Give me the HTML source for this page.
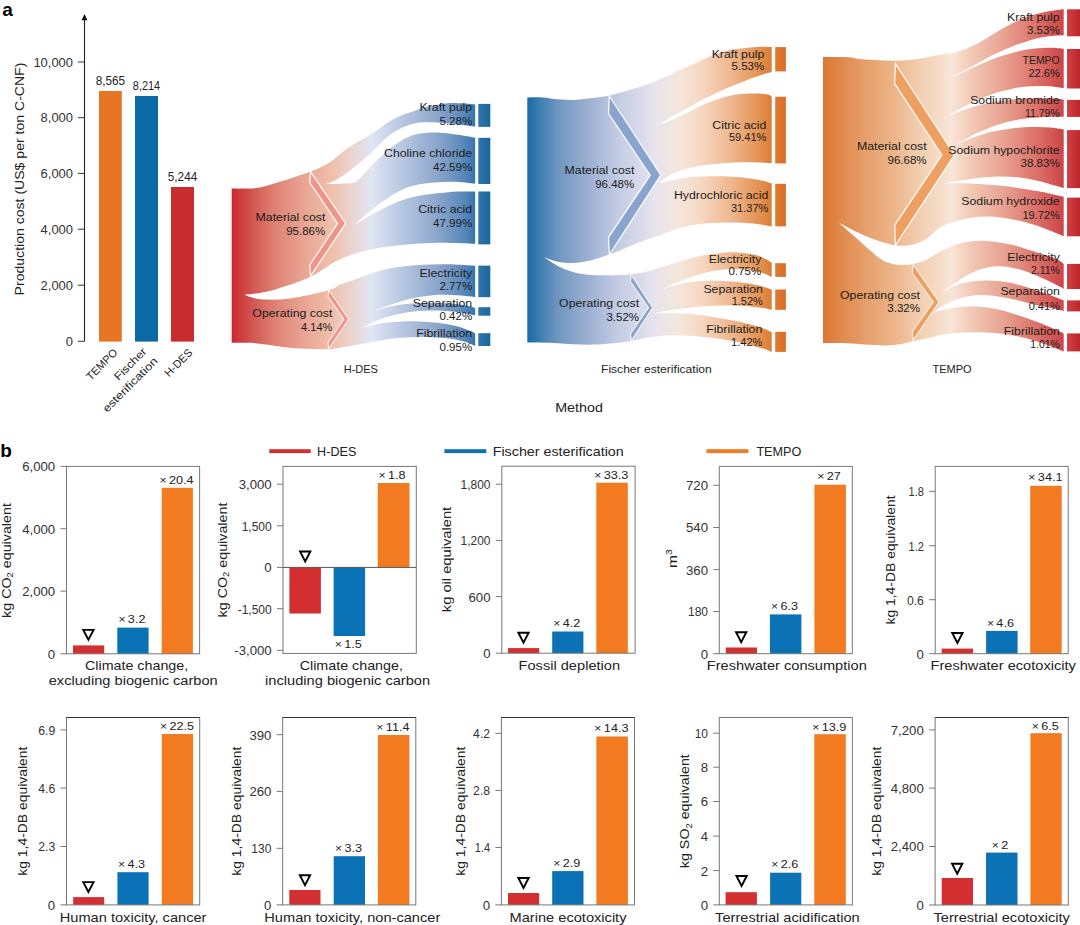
<!DOCTYPE html>
<html><head><meta charset="utf-8"><title>Figure</title>
<style>
html,body{margin:0;padding:0;background:#fff;}
body{width:1080px;height:925px;overflow:hidden;font-family:"Liberation Sans",sans-serif;}
svg{display:block;font-family:"Liberation Sans",sans-serif;}
</style></head><body>
<svg width="1080" height="925" viewBox="0 0 1080 925">
<defs><linearGradient id="gH" gradientUnits="userSpaceOnUse" x1="231.7" y1="0" x2="475.2" y2="0"><stop offset="0.0000" stop-color="#c8292f"/><stop offset="0.0957" stop-color="#d45b55"/><stop offset="0.1778" stop-color="#de8275"/><stop offset="0.2805" stop-color="#e8a08f"/><stop offset="0.4119" stop-color="#f0c0ab"/><stop offset="0.5064" stop-color="#e9d7d6"/><stop offset="0.5762" stop-color="#dfe6f4"/><stop offset="0.6912" stop-color="#bac9e2"/><stop offset="0.8431" stop-color="#8ba6cc"/><stop offset="0.9458" stop-color="#5c8abb"/><stop offset="0.9967" stop-color="#3a76ae"/></linearGradient><linearGradient id="gHn" gradientUnits="userSpaceOnUse" x1="478.2" y1="0" x2="490.5" y2="0"><stop offset="0.0000" stop-color="#2f75ac"/><stop offset="1.0000" stop-color="#19669f"/></linearGradient><linearGradient id="gF" gradientUnits="userSpaceOnUse" x1="527.3" y1="0" x2="771.7" y2="0"><stop offset="0.0000" stop-color="#1c6aa5"/><stop offset="0.0520" stop-color="#3c7eb1"/><stop offset="0.1248" stop-color="#6f96c0"/><stop offset="0.2484" stop-color="#9cb0d2"/><stop offset="0.3711" stop-color="#c3cce2"/><stop offset="0.4611" stop-color="#d8daea"/><stop offset="0.5225" stop-color="#e8e4ec"/><stop offset="0.6166" stop-color="#f4e6dc"/><stop offset="0.7066" stop-color="#f6d9c4"/><stop offset="0.8335" stop-color="#efb78e"/><stop offset="0.9562" stop-color="#e38f4e"/><stop offset="1.0000" stop-color="#dd7b34"/></linearGradient><linearGradient id="gFn" gradientUnits="userSpaceOnUse" x1="775.2" y1="0" x2="785.9" y2="0"><stop offset="0.0000" stop-color="#e17a30"/><stop offset="1.0000" stop-color="#da6d25"/></linearGradient><linearGradient id="gT" gradientUnits="userSpaceOnUse" x1="823" y1="0" x2="1063.3" y2="0"><stop offset="0.0000" stop-color="#dd7530"/><stop offset="0.0749" stop-color="#e08a4c"/><stop offset="0.1831" stop-color="#e6a06c"/><stop offset="0.2913" stop-color="#ecb488"/><stop offset="0.3995" stop-color="#f2ceaf"/><stop offset="0.4869" stop-color="#f6dcc8"/><stop offset="0.5327" stop-color="#f8e6d8"/><stop offset="0.6201" stop-color="#f2c8b4"/><stop offset="0.7574" stop-color="#e8a090"/><stop offset="0.8906" stop-color="#dc7068"/><stop offset="1.0000" stop-color="#cc4548"/></linearGradient><linearGradient id="gTn" gradientUnits="userSpaceOnUse" x1="1067" y1="0" x2="1080" y2="0"><stop offset="0.0000" stop-color="#cc4246"/><stop offset="1.0000" stop-color="#bd262b"/></linearGradient></defs>
<text transform="translate(2.20,15.90)" font-size="19" text-anchor="start" fill="#000" font-weight="bold">a</text>
<text transform="translate(0.30,457.20)" font-size="19" text-anchor="start" fill="#000" font-weight="bold">b</text>
<path d="M84.5,341.3 V18" stroke="#222" stroke-width="1.1" fill="none"/>
<path d="M84.5,14 L81.6,20.3 L87.4,20.3 Z" fill="#111"/>
<path d="M78,62 H84.5" stroke="#333" stroke-width="1"/>
<text transform="translate(73.00,66.60) scale(1.08,1)" font-size="12" text-anchor="end" fill="#333">10,000</text>
<path d="M78,117.7 H84.5" stroke="#333" stroke-width="1"/>
<text transform="translate(73.00,122.30) scale(1.08,1)" font-size="12" text-anchor="end" fill="#333">8,000</text>
<path d="M78,173.4 H84.5" stroke="#333" stroke-width="1"/>
<text transform="translate(73.00,178.00) scale(1.08,1)" font-size="12" text-anchor="end" fill="#333">6,000</text>
<path d="M78,229.2 H84.5" stroke="#333" stroke-width="1"/>
<text transform="translate(73.00,233.80) scale(1.08,1)" font-size="12" text-anchor="end" fill="#333">4,000</text>
<path d="M78,285.2 H84.5" stroke="#333" stroke-width="1"/>
<text transform="translate(73.00,289.80) scale(1.08,1)" font-size="12" text-anchor="end" fill="#333">2,000</text>
<path d="M78,341.3 H84.5" stroke="#333" stroke-width="1"/>
<text transform="translate(73.00,345.90) scale(1.08,1)" font-size="12" text-anchor="end" fill="#333">0</text>
<rect x="99" y="91" width="22.80" height="250.60" fill="#e77524"/>
<text transform="translate(110.40,84.80) scale(0.98,1)" font-size="12" text-anchor="middle" fill="#222">8,565</text>
<rect x="135" y="96" width="23.00" height="245.60" fill="#0b6aa5"/>
<text transform="translate(146.50,89.80) scale(0.91,1)" font-size="12" text-anchor="middle" fill="#222">8,214</text>
<rect x="171" y="187" width="23.00" height="154.60" fill="#c92c2e"/>
<text transform="translate(182.50,180.80) scale(0.98,1)" font-size="12" text-anchor="middle" fill="#222">5,244</text>
<text transform="translate(24.20,179.00) rotate(-90) scale(1.125,1)" font-size="12.5" text-anchor="middle" fill="#222">Production cost (US$ per ton C-CNF)</text>
<text transform="translate(118.30,353.30) rotate(-45)" font-size="11" text-anchor="end" fill="#222">TEMPO</text>
<text transform="translate(147.30,352.30) rotate(-45) scale(1.13,1)" font-size="11" text-anchor="end" fill="#222">Fischer</text>
<text transform="translate(158.30,361.80) rotate(-45) scale(1.17,1)" font-size="11" text-anchor="end" fill="#222">esterification</text>
<text transform="translate(193.20,353.30) rotate(-45)" font-size="11" text-anchor="end" fill="#222">H-DES</text>
<text transform="translate(579.00,412.00) scale(1.1,1)" font-size="13" text-anchor="middle" fill="#222">Method</text>
<path d="M231.70,188.60 C233.58,188.60 239.15,188.67 243.00,188.60 C246.85,188.53 250.80,188.68 254.80,188.20 C258.80,187.72 262.80,186.77 267.00,185.70 C271.20,184.63 275.33,183.27 280.00,181.80 C284.67,180.33 289.88,178.60 295.00,176.90 C300.12,175.20 306.20,173.33 310.70,171.60 C315.20,169.87 318.22,168.48 322.00,166.50 C325.78,164.52 329.62,162.35 333.40,159.70 C337.18,157.05 340.92,153.43 344.70,150.60 C348.48,147.77 352.32,145.07 356.10,142.70 C359.88,140.33 363.62,138.68 367.40,136.40 C371.18,134.12 375.02,131.55 378.80,129.00 C382.58,126.45 386.32,123.37 390.10,121.10 C393.88,118.83 397.72,117.00 401.50,115.40 C405.28,113.80 408.88,112.85 412.80,111.50 C416.72,110.15 419.13,108.68 425.00,107.30 C430.87,105.92 439.63,103.68 448.00,103.20 C456.37,102.72 470.67,104.20 475.20,104.40 L475.20,345.90 C473.20,345.12 468.45,342.52 463.20,341.20 C457.95,339.88 451.27,338.72 443.70,338.00 C436.13,337.28 426.43,336.80 417.80,336.90 C409.17,337.00 400.55,337.55 391.90,338.60 C383.25,339.65 374.55,341.68 365.90,343.20 C357.25,344.72 346.20,346.70 340.00,347.70 C333.80,348.70 333.70,348.98 328.70,349.20 C323.70,349.42 316.48,349.23 310.00,349.00 C303.52,348.77 296.47,348.47 289.80,347.80 C283.13,347.13 276.05,345.78 270.00,345.00 C263.95,344.22 258.00,343.47 253.50,343.10 C249.00,342.73 246.63,342.85 243.00,342.80 C239.37,342.75 233.58,342.80 231.70,342.80 Z" fill="url(#gH)"/>
<path d="M324.90,184.10 C326.32,183.63 330.10,182.90 333.40,181.30 C336.70,179.70 340.92,177.15 344.70,174.50 C348.48,171.85 352.32,168.43 356.10,165.40 C359.88,162.37 363.62,159.72 367.40,156.30 C371.18,152.88 375.02,148.50 378.80,144.90 C382.58,141.30 386.32,137.53 390.10,134.70 C393.88,131.87 397.72,129.70 401.50,127.90 C405.28,126.10 408.88,124.85 412.80,123.90 C416.72,122.95 419.13,122.30 425.00,122.20 C430.87,122.10 439.63,122.55 448.00,123.30 C456.37,124.05 470.67,126.13 475.20,126.70 L477.20,126.70 L477.20,137.80 L475.20,137.80 C472.33,137.30 463.87,135.63 458.00,134.80 C452.13,133.97 445.50,133.10 440.00,132.80 C434.50,132.50 429.53,132.58 425.00,133.00 C420.47,133.42 416.72,134.07 412.80,135.30 C408.88,136.53 405.28,138.23 401.50,140.40 C397.72,142.57 393.88,145.27 390.10,148.30 C386.32,151.33 382.38,155.18 378.80,158.60 C375.22,162.02 371.82,165.40 368.60,168.80 C365.38,172.20 362.15,176.63 359.50,179.00 C356.85,181.37 356.10,182.22 352.70,183.00 C349.30,183.78 343.73,183.52 339.10,183.70 C334.47,183.88 327.27,184.03 324.90,184.10 Z" fill="#fff"/>
<path d="M353.70,225.20 C358.63,221.18 373.75,207.58 383.30,201.10 C392.85,194.62 400.22,189.53 411.00,186.30 C421.78,183.07 437.30,182.17 448.00,181.70 C458.70,181.23 470.67,183.20 475.20,183.50 L477.20,183.50 L477.20,191.50 L475.20,191.50 C470.67,191.62 458.70,191.22 448.00,192.20 C437.30,193.18 421.83,194.68 411.00,197.40 C400.17,200.12 392.55,203.87 383.00,208.50 C373.45,213.13 358.58,222.42 353.70,225.20 Z" fill="#fff"/>
<path d="M244.30,294.70 C246.58,294.45 252.57,294.17 258.00,293.20 C263.43,292.23 268.13,291.65 276.90,288.90 C285.67,286.15 299.80,281.77 310.60,276.70 C321.40,271.63 330.03,263.35 341.70,258.50 C353.37,253.65 365.48,250.18 380.60,247.60 C395.72,245.02 416.63,243.63 432.40,243.00 C448.17,242.37 468.07,243.67 475.20,243.80 L477.20,243.80 L477.20,266.00 L475.20,266.00 C474.27,265.90 474.85,265.68 469.60,265.40 C464.35,265.12 452.33,264.35 443.70,264.30 C435.07,264.25 426.43,264.48 417.80,265.10 C409.17,265.72 399.47,266.67 391.90,268.00 C384.33,269.33 378.88,271.05 372.40,273.10 C365.92,275.15 358.40,278.35 353.00,280.30 C347.60,282.25 344.05,283.15 340.00,284.80 C335.95,286.45 337.07,287.92 328.70,290.20 C320.33,292.48 300.60,296.95 289.80,298.50 C279.00,300.05 270.03,299.62 263.90,299.50 C257.77,299.38 256.27,298.60 253.00,297.80 C249.73,297.00 245.75,295.22 244.30,294.70 Z" fill="#fff"/>
<path d="M374.40,310.70 C377.32,309.63 385.75,306.35 391.90,304.30 C398.05,302.25 404.83,299.88 411.30,298.40 C417.77,296.92 424.22,295.98 430.70,295.40 C437.18,294.82 443.72,294.77 450.20,294.90 C456.68,295.03 465.43,295.83 469.60,296.20 C473.77,296.57 474.27,296.95 475.20,297.10 L477.20,297.10 L477.20,308.20 L475.20,308.20 C474.27,307.87 473.77,306.97 469.60,306.20 C465.43,305.43 456.68,304.13 450.20,303.60 C443.72,303.07 437.18,303.00 430.70,303.00 C424.22,303.00 417.77,303.07 411.30,303.60 C404.83,304.13 398.05,305.02 391.90,306.20 C385.75,307.38 377.32,309.95 374.40,310.70 Z" fill="#fff"/>
<path d="M362.00,327.90 C364.82,326.55 372.85,322.12 378.90,319.80 C384.95,317.48 391.82,315.47 398.30,314.00 C404.78,312.53 411.32,311.58 417.80,311.00 C424.28,310.42 430.72,310.33 437.20,310.50 C443.68,310.67 450.37,311.20 456.70,312.00 C463.03,312.80 472.12,314.75 475.20,315.30 L477.20,315.30 L477.20,333.40 L475.20,333.40 C474.27,332.97 472.68,331.98 469.60,330.80 C466.52,329.62 462.10,327.65 456.70,326.30 C451.30,324.95 443.68,323.52 437.20,322.70 C430.72,321.88 424.28,321.55 417.80,321.40 C411.32,321.25 404.78,321.42 398.30,321.80 C391.82,322.18 384.95,322.68 378.90,323.70 C372.85,324.72 364.82,327.20 362.00,327.90 Z" fill="#fff"/>
<rect x="478.3" y="103.9" width="12.00" height="23.00" fill="url(#gHn)"/>
<rect x="478.3" y="137.8" width="12.00" height="46.20" fill="url(#gHn)"/>
<rect x="478.3" y="191.5" width="12.00" height="52.90" fill="url(#gHn)"/>
<rect x="478.3" y="265.6" width="12.00" height="31.60" fill="url(#gHn)"/>
<rect x="478.3" y="307.2" width="12.00" height="8.50" fill="url(#gHn)"/>
<rect x="478.3" y="333.2" width="12.00" height="12.80" fill="url(#gHn)"/>
<path d="M310.6,171.6 L345.6,223.4 L310.6,275.9 L309.8,264.9 L337.6,223.4 L309.8,182.6 Z" fill="#ef9488" stroke="#fff" stroke-opacity="0.95" stroke-width="1.25" stroke-linejoin="miter"/>
<path d="M328.8,290.2 L348.6,319.2 L328.8,348.7 L328.0,342.5 L344.0,319.2 L328.0,296.4 Z" fill="#ef9488" stroke="#fff" stroke-opacity="0.95" stroke-width="1.0" stroke-linejoin="miter"/>
<text transform="translate(325.30,221.30) scale(1.12,1)" font-size="11" text-anchor="end" fill="#1c1c1c">Material cost</text>
<text transform="translate(325.30,235.05) scale(1.05,1)" font-size="11" text-anchor="end" fill="#1c1c1c">95.86%</text>
<text transform="translate(332.30,317.30) scale(1.12,1)" font-size="11" text-anchor="end" fill="#1c1c1c">Operating cost</text>
<text transform="translate(332.30,331.05)" font-size="11" text-anchor="end" fill="#1c1c1c">4.14%</text>
<text transform="translate(472.20,111.20) scale(1.12,1)" font-size="11" text-anchor="end" fill="#1c1c1c">Kraft pulp</text>
<text transform="translate(472.20,124.95) scale(1.05,1)" font-size="11" text-anchor="end" fill="#1c1c1c">5.28%</text>
<text transform="translate(472.20,157.00) scale(1.12,1)" font-size="11" text-anchor="end" fill="#1c1c1c">Choline chloride</text>
<text transform="translate(472.20,170.75) scale(1.05,1)" font-size="11" text-anchor="end" fill="#1c1c1c">42.59%</text>
<text transform="translate(472.20,213.00) scale(1.12,1)" font-size="11" text-anchor="end" fill="#1c1c1c">Citric acid</text>
<text transform="translate(472.20,226.75) scale(1.05,1)" font-size="11" text-anchor="end" fill="#1c1c1c">47.99%</text>
<text transform="translate(472.20,276.50) scale(1.12,1)" font-size="11" text-anchor="end" fill="#1c1c1c">Electricity</text>
<text transform="translate(472.20,290.10) scale(1.05,1)" font-size="11" text-anchor="end" fill="#1c1c1c">2.77%</text>
<text transform="translate(472.20,306.70) scale(1.12,1)" font-size="11" text-anchor="end" fill="#1c1c1c">Separation</text>
<text transform="translate(472.20,320.30) scale(1.05,1)" font-size="11" text-anchor="end" fill="#1c1c1c">0.42%</text>
<text transform="translate(472.20,337.40) scale(1.12,1)" font-size="11" text-anchor="end" fill="#1c1c1c">Fibrillation</text>
<text transform="translate(472.20,351.20) scale(1.05,1)" font-size="11" text-anchor="end" fill="#1c1c1c">0.95%</text>
<text transform="translate(360.80,372.90)" font-size="11" text-anchor="middle" fill="#222">H-DES</text>
<path d="M527.30,97.50 C529.87,97.48 537.62,97.10 542.70,97.40 C547.78,97.70 552.75,98.85 557.80,99.30 C562.85,99.75 567.95,100.22 573.00,100.10 C578.05,99.98 582.05,99.37 588.10,98.60 C594.15,97.83 602.98,96.77 609.30,95.50 C615.62,94.23 620.70,92.50 626.00,91.00 C631.30,89.50 636.25,88.13 641.10,86.50 C645.95,84.87 650.23,83.17 655.10,81.20 C659.97,79.23 665.25,76.98 670.30,74.70 C675.35,72.42 680.37,69.83 685.40,67.50 C690.43,65.17 695.45,62.97 700.50,60.70 C705.55,58.43 710.65,55.72 715.70,53.90 C720.75,52.08 725.75,50.80 730.80,49.80 C735.85,48.80 740.95,48.40 746.00,47.90 C751.05,47.40 756.82,46.93 761.10,46.80 C765.38,46.67 769.93,47.05 771.70,47.10 L771.70,351.90 C769.93,351.27 766.65,349.75 761.10,348.10 C755.55,346.45 745.97,343.65 738.40,342.00 C730.83,340.35 723.27,339.20 715.70,338.20 C708.13,337.20 700.57,336.50 693.00,336.00 C685.43,335.50 677.68,334.95 670.30,335.20 C662.92,335.45 655.22,336.53 648.70,337.50 C642.18,338.47 636.25,340.12 631.20,341.00 C626.15,341.88 624.32,342.20 618.40,342.80 C612.48,343.40 603.27,344.35 595.70,344.60 C588.13,344.85 580.57,344.60 573.00,344.30 C565.43,344.00 557.92,343.10 550.30,342.80 C542.68,342.50 531.13,342.55 527.30,342.50 Z" fill="url(#gF)"/>
<path d="M658.20,125.10 C660.22,123.83 665.77,120.15 670.30,117.50 C674.83,114.85 680.37,111.98 685.40,109.20 C690.43,106.42 695.45,103.45 700.50,100.80 C705.55,98.15 710.65,95.68 715.70,93.30 C720.75,90.92 725.75,88.65 730.80,86.50 C735.85,84.35 740.95,82.30 746.00,80.40 C751.05,78.50 756.82,76.48 761.10,75.10 C765.38,73.72 769.93,72.60 771.70,72.10 L773.70,72.10 L773.70,96.80 L771.70,96.80 C771.20,96.47 770.47,95.32 768.70,94.80 C766.93,94.28 764.88,93.88 761.10,93.70 C757.32,93.52 751.05,93.40 746.00,93.70 C740.95,94.00 735.85,94.43 730.80,95.50 C725.75,96.57 720.75,98.33 715.70,100.10 C710.65,101.87 705.55,103.83 700.50,106.10 C695.45,108.37 690.43,111.30 685.40,113.70 C680.37,116.10 674.83,118.60 670.30,120.50 C665.77,122.40 660.22,124.33 658.20,125.10 Z" fill="#fff"/>
<path d="M658.20,183.50 C660.22,182.10 665.77,177.50 670.30,175.10 C674.83,172.70 680.37,170.65 685.40,169.10 C690.43,167.55 694.20,166.77 700.50,165.80 C706.80,164.83 715.62,163.88 723.20,163.30 C730.78,162.72 737.92,162.33 746.00,162.30 C754.08,162.27 767.42,162.97 771.70,163.10 L773.70,163.10 L773.70,183.60 L771.70,183.60 C769.93,183.07 765.38,181.35 761.10,180.40 C756.82,179.45 752.32,178.58 746.00,177.90 C739.68,177.22 730.78,176.52 723.20,176.30 C715.62,176.08 706.80,176.33 700.50,176.60 C694.20,176.87 690.43,177.27 685.40,177.90 C680.37,178.53 674.83,179.47 670.30,180.40 C665.77,181.33 660.22,182.98 658.20,183.50 Z" fill="#fff"/>
<path d="M544.20,257.60 C546.47,258.28 553.00,260.82 557.80,261.70 C562.60,262.58 567.95,263.00 573.00,262.90 C578.05,262.80 582.05,262.48 588.10,261.10 C594.15,259.72 603.00,256.82 609.30,254.60 C615.60,252.38 620.60,249.95 625.90,247.80 C631.20,245.65 634.97,243.97 641.10,241.70 C647.23,239.43 655.32,236.72 662.70,234.20 C670.08,231.68 677.83,228.42 685.40,226.60 C692.97,224.78 700.53,223.98 708.10,223.30 C715.67,222.62 723.23,222.45 730.80,222.50 C738.37,222.55 746.68,222.95 753.50,223.60 C760.32,224.25 768.67,225.93 771.70,226.40 L773.70,226.40 L773.70,263.00 L771.70,263.00 C770.68,262.35 768.63,260.50 765.60,259.10 C762.57,257.70 759.30,255.73 753.50,254.60 C747.70,253.47 738.37,252.30 730.80,252.30 C723.23,252.30 715.67,253.33 708.10,254.60 C700.53,255.87 692.97,257.88 685.40,259.90 C677.83,261.92 668.82,264.82 662.70,266.70 C656.58,268.58 653.95,269.93 648.70,271.20 C643.45,272.47 636.25,273.62 631.20,274.30 C626.15,274.98 623.07,275.13 618.40,275.30 C613.73,275.47 608.25,275.40 603.20,275.30 C598.15,275.20 593.13,275.25 588.10,274.70 C583.07,274.15 578.05,273.47 573.00,272.00 C567.95,270.53 562.60,268.30 557.80,265.90 C553.00,263.50 546.47,258.98 544.20,257.60 Z" fill="#fff"/>
<path d="M659.70,290.60 C662.72,289.20 671.00,284.98 677.80,282.20 C684.60,279.42 692.93,276.03 700.50,273.90 C708.07,271.77 715.62,270.15 723.20,269.40 C730.78,268.65 739.68,268.90 746.00,269.40 C752.32,269.90 756.82,271.15 761.10,272.40 C765.38,273.65 769.93,276.15 771.70,276.90 L773.70,276.90 L773.70,289.50 L771.70,289.50 C769.93,288.92 765.38,287.08 761.10,286.00 C756.82,284.92 752.32,283.83 746.00,283.00 C739.68,282.17 730.78,281.33 723.20,281.00 C715.62,280.67 708.07,280.42 700.50,281.00 C692.93,281.58 684.60,282.90 677.80,284.50 C671.00,286.10 662.72,289.58 659.70,290.60 Z" fill="#fff"/>
<path d="M652.90,313.30 C655.80,312.78 663.62,311.22 670.30,310.20 C676.98,309.18 685.43,307.95 693.00,307.20 C700.57,306.45 708.13,305.95 715.70,305.70 C723.27,305.45 730.83,305.37 738.40,305.70 C745.97,306.03 755.55,307.02 761.10,307.70 C766.65,308.38 769.93,309.45 771.70,309.80 L773.70,309.80 L773.70,332.20 L771.70,332.20 C769.93,331.43 766.65,329.37 761.10,327.60 C755.55,325.83 745.97,323.30 738.40,321.60 C730.83,319.90 723.27,318.62 715.70,317.40 C708.13,316.18 700.57,314.98 693.00,314.30 C685.43,313.62 676.98,313.47 670.30,313.30 C663.62,313.13 655.80,313.30 652.90,313.30 Z" fill="#fff"/>
<rect x="775.2" y="47.1" width="10.70" height="24.30" fill="url(#gFn)"/>
<rect x="775.2" y="96.8" width="10.70" height="66.60" fill="url(#gFn)"/>
<rect x="775.2" y="183.8" width="10.70" height="42.60" fill="url(#gFn)"/>
<rect x="775.2" y="263.2" width="10.70" height="13.70" fill="url(#gFn)"/>
<rect x="775.2" y="289.5" width="10.70" height="20.30" fill="url(#gFn)"/>
<rect x="775.2" y="331.9" width="10.70" height="20.00" fill="url(#gFn)"/>
<path d="M609.3,96.0 L660.8,175.2 L609.3,254.8 L608.5,237.3 L650.1999999999999,175.2 L608.5,113.5 Z" fill="#8aa5cd" stroke="#fff" stroke-opacity="0.95" stroke-width="1.25" stroke-linejoin="miter"/>
<path d="M631.3,275.0 L652.5,307.7 L631.3,340.6 L630.5,334.0 L648.6,307.7 L630.5,281.6 Z" fill="#8aa5cd" stroke="#fff" stroke-opacity="0.95" stroke-width="1.0" stroke-linejoin="miter"/>
<text transform="translate(634.30,173.90) scale(1.12,1)" font-size="11" text-anchor="end" fill="#1c1c1c">Material cost</text>
<text transform="translate(634.30,187.50) scale(1.05,1)" font-size="11" text-anchor="end" fill="#1c1c1c">96.48%</text>
<text transform="translate(639.10,307.20) scale(1.12,1)" font-size="11" text-anchor="end" fill="#1c1c1c">Operating cost</text>
<text transform="translate(639.10,320.80) scale(1.05,1)" font-size="11" text-anchor="end" fill="#1c1c1c">3.52%</text>
<text transform="translate(764.30,57.90) scale(1.12,1)" font-size="11" text-anchor="end" fill="#1c1c1c">Kraft pulp</text>
<text transform="translate(764.30,70.30) scale(1.05,1)" font-size="11" text-anchor="end" fill="#1c1c1c">5.53%</text>
<text transform="translate(766.30,128.70) scale(1.12,1)" font-size="11" text-anchor="end" fill="#1c1c1c">Citric acid</text>
<text transform="translate(766.30,141.10)" font-size="11" text-anchor="end" fill="#1c1c1c">59.41%</text>
<text transform="translate(768.30,199.40) scale(1.12,1)" font-size="11" text-anchor="end" fill="#1c1c1c">Hydrochloric acid</text>
<text transform="translate(768.30,211.80)" font-size="11" text-anchor="end" fill="#1c1c1c">31.37%</text>
<text transform="translate(761.30,262.60) scale(1.12,1)" font-size="11" text-anchor="end" fill="#1c1c1c">Electricity</text>
<text transform="translate(761.30,275.00) scale(1.05,1)" font-size="11" text-anchor="end" fill="#1c1c1c">0.75%</text>
<text transform="translate(762.90,293.10) scale(1.12,1)" font-size="11" text-anchor="end" fill="#1c1c1c">Separation</text>
<text transform="translate(762.90,305.20)" font-size="11" text-anchor="end" fill="#1c1c1c">1.52%</text>
<text transform="translate(762.30,333.40) scale(1.12,1)" font-size="11" text-anchor="end" fill="#1c1c1c">Fibrillation</text>
<text transform="translate(762.30,345.80)" font-size="11" text-anchor="end" fill="#1c1c1c">1.42%</text>
<text transform="translate(656.40,373.10) scale(1.1,1)" font-size="11" text-anchor="middle" fill="#222">Fischer esterification</text>
<path d="M823.00,57.10 C826.63,57.10 838.57,56.78 844.80,57.10 C851.03,57.42 854.55,58.47 860.40,59.00 C866.25,59.53 874.07,60.02 879.90,60.30 C885.73,60.58 890.00,60.80 895.40,60.70 C900.80,60.60 906.23,60.42 912.30,59.70 C918.37,58.98 926.40,57.38 931.80,56.40 C937.20,55.42 941.17,54.33 944.70,53.80 C948.23,53.27 949.45,54.05 953.00,53.20 C956.55,52.35 961.68,50.43 966.00,48.70 C970.32,46.97 974.58,45.08 978.90,42.80 C983.22,40.52 987.57,37.60 991.90,35.00 C996.23,32.40 1000.57,29.57 1004.90,27.20 C1009.23,24.83 1013.58,22.73 1017.90,20.80 C1022.22,18.87 1026.48,17.02 1030.80,15.60 C1035.12,14.18 1039.47,13.22 1043.80,12.30 C1048.13,11.38 1053.48,10.60 1056.80,10.10 C1060.12,9.60 1062.55,9.43 1063.70,9.30 L1063.70,351.40 C1061.37,350.48 1054.63,347.73 1049.70,345.90 C1044.77,344.07 1039.32,341.97 1034.10,340.40 C1028.88,338.83 1023.63,337.60 1018.40,336.50 C1013.17,335.40 1007.93,334.45 1002.70,333.80 C997.47,333.15 992.22,332.85 987.00,332.60 C981.78,332.35 976.62,332.25 971.40,332.30 C966.18,332.35 960.93,332.47 955.70,332.90 C950.47,333.33 943.85,334.22 940.00,334.90 C936.15,335.58 937.10,335.95 932.60,337.00 C928.10,338.05 918.23,340.05 913.00,341.20 C907.77,342.35 905.78,343.20 901.20,343.90 C896.62,344.60 890.72,345.25 885.50,345.40 C880.28,345.55 876.42,345.17 869.90,344.80 C863.38,344.43 854.22,343.47 846.40,343.20 C838.58,342.93 826.90,343.20 823.00,343.20 Z" fill="url(#gT)"/>
<path d="M946.50,79.40 C948.67,78.28 955.18,74.90 959.50,72.70 C963.82,70.50 968.08,68.48 972.40,66.20 C976.72,63.92 981.07,61.27 985.40,59.00 C989.73,56.73 994.07,54.65 998.40,52.60 C1002.73,50.55 1007.08,48.43 1011.40,46.70 C1015.72,44.97 1019.98,43.60 1024.30,42.20 C1028.62,40.80 1032.97,39.32 1037.30,38.30 C1041.63,37.28 1045.90,36.60 1050.30,36.10 C1054.70,35.60 1061.47,35.43 1063.70,35.30 L1065.70,35.30 L1065.70,48.70 L1063.70,48.70 C1061.47,48.53 1054.70,47.77 1050.30,47.70 C1045.90,47.63 1041.63,47.92 1037.30,48.30 C1032.97,48.68 1028.62,49.18 1024.30,50.00 C1019.98,50.82 1015.72,52.02 1011.40,53.20 C1007.08,54.38 1002.73,55.58 998.40,57.10 C994.07,58.62 989.73,60.47 985.40,62.30 C981.07,64.13 976.72,66.15 972.40,68.10 C968.08,70.05 963.82,72.12 959.50,74.00 C955.18,75.88 948.67,78.50 946.50,79.40 Z" fill="#fff"/>
<path d="M947.80,116.50 C949.75,115.25 955.40,111.33 959.50,109.00 C963.60,106.67 968.08,104.55 972.40,102.50 C976.72,100.45 981.07,98.43 985.40,96.70 C989.73,94.97 994.07,93.40 998.40,92.10 C1002.73,90.80 1007.08,89.80 1011.40,88.90 C1015.72,88.00 1019.98,87.20 1024.30,86.70 C1028.62,86.20 1032.97,85.97 1037.30,85.90 C1041.63,85.83 1045.90,85.92 1050.30,86.30 C1054.70,86.68 1061.47,87.88 1063.70,88.20 L1065.70,88.20 L1065.70,99.60 L1063.70,99.60 C1061.47,99.43 1054.70,98.80 1050.30,98.60 C1045.90,98.40 1041.63,98.40 1037.30,98.40 C1032.97,98.40 1028.62,98.40 1024.30,98.60 C1019.98,98.80 1015.72,99.17 1011.40,99.60 C1007.08,100.03 1002.73,100.50 998.40,101.20 C994.07,101.90 989.73,102.83 985.40,103.80 C981.07,104.77 976.72,105.70 972.40,107.00 C968.08,108.30 963.60,110.02 959.50,111.60 C955.40,113.18 949.75,115.68 947.80,116.50 Z" fill="#fff"/>
<path d="M957.50,144.00 C959.98,142.55 967.75,137.72 972.40,135.30 C977.05,132.88 981.07,131.30 985.40,129.50 C989.73,127.70 994.07,125.92 998.40,124.50 C1002.73,123.08 1007.08,121.95 1011.40,121.00 C1015.72,120.05 1019.98,119.38 1024.30,118.80 C1028.62,118.22 1032.97,117.85 1037.30,117.50 C1041.63,117.15 1045.90,116.83 1050.30,116.70 C1054.70,116.57 1061.47,116.70 1063.70,116.70 L1065.70,116.70 L1065.70,129.50 L1063.70,129.50 C1061.47,129.17 1054.70,127.93 1050.30,127.50 C1045.90,127.07 1041.63,126.93 1037.30,126.90 C1032.97,126.87 1028.62,127.05 1024.30,127.30 C1019.98,127.55 1015.72,127.87 1011.40,128.40 C1007.08,128.93 1002.73,129.67 998.40,130.50 C994.07,131.33 989.73,132.17 985.40,133.40 C981.07,134.63 977.05,136.13 972.40,137.90 C967.75,139.67 959.98,142.98 957.50,144.00 Z" fill="#fff"/>
<path d="M942.60,183.70 C945.42,183.20 953.45,181.70 959.50,180.70 C965.55,179.70 972.42,178.42 978.90,177.70 C985.38,176.98 991.90,176.48 998.40,176.40 C1004.90,176.32 1011.42,176.48 1017.90,177.20 C1024.38,177.92 1031.90,179.53 1037.30,180.70 C1042.70,181.87 1045.90,183.00 1050.30,184.20 C1054.70,185.40 1061.47,187.28 1063.70,187.90 L1065.70,187.90 L1065.70,196.70 L1063.70,196.70 C1061.47,196.20 1054.70,194.63 1050.30,193.70 C1045.90,192.77 1042.70,192.07 1037.30,191.10 C1031.90,190.13 1024.38,188.83 1017.90,187.90 C1011.42,186.97 1004.90,186.15 998.40,185.50 C991.90,184.85 985.38,184.37 978.90,184.00 C972.42,183.63 965.55,183.35 959.50,183.30 C953.45,183.25 945.42,183.63 942.60,183.70 Z" fill="#fff"/>
<path d="M838.50,222.50 C841.12,223.87 848.97,228.17 854.20,230.70 C859.43,233.23 864.68,235.67 869.90,237.70 C875.12,239.73 881.27,241.63 885.50,242.90 C889.73,244.17 891.90,244.85 895.30,245.30 C898.70,245.75 902.30,245.95 905.90,245.60 C909.50,245.25 913.23,244.52 916.90,243.20 C920.57,241.88 924.05,240.32 927.90,237.70 C931.75,235.08 935.37,230.23 940.00,227.50 C944.63,224.77 950.47,222.92 955.70,221.30 C960.93,219.68 966.18,218.58 971.40,217.80 C976.62,217.02 981.78,216.60 987.00,216.60 C992.22,216.60 997.47,217.15 1002.70,217.80 C1007.93,218.45 1013.17,219.35 1018.40,220.50 C1023.63,221.65 1028.88,223.05 1034.10,224.70 C1039.32,226.35 1044.77,228.48 1049.70,230.40 C1054.63,232.32 1061.37,235.23 1063.70,236.20 L1065.70,236.20 L1065.70,263.90 L1063.70,263.90 C1062.93,263.33 1061.43,261.73 1059.10,260.50 C1056.77,259.27 1053.87,258.02 1049.70,256.50 C1045.53,254.98 1039.32,253.08 1034.10,251.40 C1028.88,249.72 1023.63,247.82 1018.40,246.40 C1013.17,244.98 1007.93,243.82 1002.70,242.90 C997.47,241.98 992.22,241.17 987.00,240.90 C981.78,240.63 976.62,240.65 971.40,241.30 C966.18,241.95 960.93,243.05 955.70,244.80 C950.47,246.55 945.17,249.18 940.00,251.80 C934.83,254.42 929.20,258.48 924.70,260.50 C920.20,262.52 916.92,263.17 913.00,263.90 C909.08,264.63 905.00,265.00 901.20,264.90 C897.40,264.80 893.60,264.30 890.20,263.30 C886.80,262.30 884.18,261.07 880.80,258.90 C877.42,256.73 874.33,254.08 869.90,250.30 C865.47,246.52 859.43,240.83 854.20,236.20 C848.97,231.57 841.12,224.78 838.50,222.50 Z" fill="#fff"/>
<path d="M941.60,292.60 C943.95,290.90 950.73,285.67 955.70,282.40 C960.67,279.13 966.18,275.48 971.40,273.00 C976.62,270.52 981.78,268.60 987.00,267.50 C992.22,266.40 997.47,266.13 1002.70,266.40 C1007.93,266.67 1013.17,267.73 1018.40,269.10 C1023.63,270.47 1028.88,272.52 1034.10,274.60 C1039.32,276.68 1044.77,279.25 1049.70,281.60 C1054.63,283.95 1061.37,287.52 1063.70,288.70 L1065.70,288.70 L1065.70,300.40 L1063.70,300.40 C1061.37,299.48 1054.63,296.72 1049.70,294.90 C1044.77,293.08 1039.32,291.18 1034.10,289.50 C1028.88,287.82 1023.63,286.12 1018.40,284.80 C1013.17,283.48 1007.93,282.32 1002.70,281.60 C997.47,280.88 992.22,280.50 987.00,280.50 C981.78,280.50 976.62,280.77 971.40,281.60 C966.18,282.43 960.67,283.67 955.70,285.50 C950.73,287.33 943.95,291.42 941.60,292.60 Z" fill="#fff"/>
<path d="M932.60,313.80 C933.83,312.75 936.15,309.85 940.00,307.50 C943.85,305.15 950.47,301.67 955.70,299.70 C960.93,297.73 966.18,296.43 971.40,295.70 C976.62,294.97 981.78,295.03 987.00,295.30 C992.22,295.57 997.47,296.45 1002.70,297.30 C1007.93,298.15 1013.17,299.22 1018.40,300.40 C1023.63,301.58 1028.88,303.17 1034.10,304.40 C1039.32,305.63 1044.77,306.72 1049.70,307.80 C1054.63,308.88 1061.37,310.38 1063.70,310.90 L1065.70,310.90 L1065.70,333.40 L1063.70,333.40 C1061.37,332.35 1054.63,329.20 1049.70,327.10 C1044.77,325.00 1039.32,322.77 1034.10,320.80 C1028.88,318.83 1023.63,317.00 1018.40,315.30 C1013.17,313.60 1007.93,311.90 1002.70,310.60 C997.47,309.30 992.22,308.23 987.00,307.50 C981.78,306.77 976.62,306.20 971.40,306.20 C966.18,306.20 960.93,306.77 955.70,307.50 C950.47,308.23 943.85,309.55 940.00,310.60 C936.15,311.65 933.83,313.27 932.60,313.80 Z" fill="#fff"/>
<rect x="1067" y="9.3" width="13.50" height="27.00" fill="url(#gTn)"/>
<rect x="1067" y="49" width="13.50" height="39.50" fill="url(#gTn)"/>
<rect x="1067" y="99.9" width="13.50" height="17.00" fill="url(#gTn)"/>
<rect x="1067" y="130.1" width="13.50" height="58.00" fill="url(#gTn)"/>
<rect x="1067" y="197.6" width="13.50" height="38.70" fill="url(#gTn)"/>
<rect x="1067" y="263.9" width="13.50" height="25.10" fill="url(#gTn)"/>
<rect x="1067" y="300.4" width="13.50" height="11.00" fill="url(#gTn)"/>
<rect x="1067" y="333.4" width="13.50" height="18.00" fill="url(#gTn)"/>
<path d="M895.4,63.6 L954.5,154.9 L895.4,245.3 L894.6,225.3 L941.9,154.9 L894.6,83.6 Z" fill="#ee9f62" stroke="#fff" stroke-opacity="0.95" stroke-width="1.25" stroke-linejoin="miter"/>
<path d="M913.1,264.4 L938.9,302 L913.1,340.4 L912.3000000000001,331.79999999999995 L933.5,302 L912.3000000000001,273.0 Z" fill="#ee9f62" stroke="#fff" stroke-opacity="0.95" stroke-width="1.0" stroke-linejoin="miter"/>
<text transform="translate(926.60,150.00) scale(1.12,1)" font-size="11" text-anchor="end" fill="#1c1c1c">Material cost</text>
<text transform="translate(926.60,163.60) scale(1.05,1)" font-size="11" text-anchor="end" fill="#1c1c1c">96.68%</text>
<text transform="translate(920.00,298.90) scale(1.12,1)" font-size="11" text-anchor="end" fill="#1c1c1c">Operating cost</text>
<text transform="translate(920.00,312.30) scale(1.05,1)" font-size="11" text-anchor="end" fill="#1c1c1c">3.32%</text>
<text transform="translate(1059.70,20.80) scale(1.12,1)" font-size="11" text-anchor="end" fill="#1c1c1c">Kraft pulp</text>
<text transform="translate(1059.70,34.00) scale(1.05,1)" font-size="11" text-anchor="end" fill="#1c1c1c">3.53%</text>
<text transform="translate(1059.70,63.60) scale(0.95,1)" font-size="11" text-anchor="end" fill="#1c1c1c">TEMPO</text>
<text transform="translate(1059.70,77.20)" font-size="11" text-anchor="end" fill="#1c1c1c">22.6%</text>
<text transform="translate(1059.70,103.80) scale(1.12,1)" font-size="11" text-anchor="end" fill="#1c1c1c">Sodium bromide</text>
<text transform="translate(1059.70,117.20) scale(0.9500000000000001,1)" font-size="11" text-anchor="end" fill="#1c1c1c">11.79%</text>
<text transform="translate(1059.70,153.50) scale(1.12,1)" font-size="11" text-anchor="end" fill="#1c1c1c">Sodium hypochlorite</text>
<text transform="translate(1059.70,167.30) scale(1.05,1)" font-size="11" text-anchor="end" fill="#1c1c1c">38.83%</text>
<text transform="translate(1059.70,205.40) scale(1.12,1)" font-size="11" text-anchor="end" fill="#1c1c1c">Sodium hydroxide</text>
<text transform="translate(1059.70,218.70)" font-size="11" text-anchor="end" fill="#1c1c1c">19.72%</text>
<text transform="translate(1059.90,260.50) scale(1.12,1)" font-size="11" text-anchor="end" fill="#1c1c1c">Electricity</text>
<text transform="translate(1059.90,274.30) scale(0.9500000000000001,1)" font-size="11" text-anchor="end" fill="#1c1c1c">2.11%</text>
<text transform="translate(1059.90,295.30) scale(1.12,1)" font-size="11" text-anchor="end" fill="#1c1c1c">Separation</text>
<text transform="translate(1059.90,309.50)" font-size="11" text-anchor="end" fill="#1c1c1c">0.41%</text>
<text transform="translate(1059.90,334.50) scale(1.12,1)" font-size="11" text-anchor="end" fill="#1c1c1c">Fibrillation</text>
<text transform="translate(1059.90,348.30) scale(0.9500000000000001,1)" font-size="11" text-anchor="end" fill="#1c1c1c">1.01%</text>
<text transform="translate(952.00,373.30)" font-size="11" text-anchor="middle" fill="#222">TEMPO</text>
<rect x="269.3" y="449.2" width="41.40" height="3.9" fill="#d32f31"/>
<text transform="translate(317.10,455.80) scale(0.97,1)" font-size="13" text-anchor="start" fill="#222">H-DES</text>
<rect x="444.4" y="449.2" width="41.90" height="3.9" fill="#0b72b5"/>
<text transform="translate(492.70,455.80) scale(1.1,1)" font-size="13" text-anchor="start" fill="#222">Fischer esterification</text>
<rect x="706.5" y="449.2" width="41.90" height="3.9" fill="#f27a21"/>
<text transform="translate(756.40,455.80) scale(0.97,1)" font-size="13" text-anchor="start" fill="#222">TEMPO</text>
<path d="M60.5,466.4 H66.5" stroke="#777" stroke-width="1"/>
<text transform="translate(55.20,471.30) scale(1.1,1)" font-size="12" text-anchor="end" fill="#333">6,000</text>
<path d="M60.5,528.7 H66.5" stroke="#777" stroke-width="1"/>
<text transform="translate(55.20,533.60) scale(1.1,1)" font-size="12" text-anchor="end" fill="#333">4,000</text>
<path d="M60.5,591.1 H66.5" stroke="#777" stroke-width="1"/>
<text transform="translate(55.20,596.00) scale(1.1,1)" font-size="12" text-anchor="end" fill="#333">2,000</text>
<path d="M60.5,653.8 H66.5" stroke="#777" stroke-width="1"/>
<text transform="translate(55.20,658.70) scale(1.1,1)" font-size="12" text-anchor="end" fill="#333">0</text>
<rect x="73" y="645.4" width="31.20" height="8.40" fill="#d32f31"/>
<rect x="117.3" y="627.6" width="31.30" height="26.20" fill="#0b72b5"/>
<rect x="161.7" y="487.8" width="31.20" height="166.00" fill="#f27a21"/>
<rect x="66.5" y="466.4" width="133.10" height="187.40" fill="none" stroke="#777" stroke-width="1"/>
<text transform="translate(176.60,483.60) scale(1.1,1)" font-size="11.5" text-anchor="middle" fill="#222"><tspan font-size="11">×</tspan><tspan dx="2.2">20.4</tspan></text>
<text transform="translate(131.90,623.10) scale(1.1,1)" font-size="11.5" text-anchor="middle" fill="#222"><tspan font-size="11">×</tspan><tspan dx="2.2">3.2</tspan></text>
<path d="M83.25,629.90 L93.55,629.90 L88.40,639.80 Z" fill="#fff" stroke="#000" stroke-width="1.9" stroke-linejoin="miter"/>
<text transform="translate(10.60,560.50) rotate(-90) scale(1.1,1)" font-size="13" text-anchor="middle" fill="#222">kg CO<tspan font-size="8.5" dy="2.5">2</tspan><tspan dy="-2.5"> equivalent</tspan></text>
<text transform="translate(136.60,669.80) scale(1.1,1)" font-size="13" text-anchor="middle" fill="#222">Climate change,</text>
<text transform="translate(133.20,684.50) scale(1.125,1)" font-size="13" text-anchor="middle" fill="#222">excluding biogenic carbon</text>
<path d="M277,484.2 H283" stroke="#777" stroke-width="1"/>
<text transform="translate(271.70,489.10) scale(1.1,1)" font-size="12" text-anchor="end" fill="#333">3,000</text>
<path d="M277,525.8 H283" stroke="#777" stroke-width="1"/>
<text transform="translate(271.70,530.70)" font-size="12" text-anchor="end" fill="#333">1,500</text>
<path d="M277,567.4 H283" stroke="#777" stroke-width="1"/>
<text transform="translate(271.70,572.30) scale(1.1,1)" font-size="12" text-anchor="end" fill="#333">0</text>
<path d="M277,608.7 H283" stroke="#777" stroke-width="1"/>
<text transform="translate(271.70,613.60)" font-size="12" text-anchor="end" fill="#333">-1,500</text>
<path d="M277,650.3 H283" stroke="#777" stroke-width="1"/>
<text transform="translate(271.70,655.20) scale(1.1,1)" font-size="12" text-anchor="end" fill="#333">-3,000</text>
<rect x="289.4" y="567.4" width="31.50" height="46.10" fill="#d32f31"/>
<rect x="333.6" y="567.4" width="31.50" height="68.60" fill="#0b72b5"/>
<rect x="377.7" y="483" width="31.80" height="84.40" fill="#f27a21"/>
<rect x="283" y="466.4" width="133.30" height="187.00" fill="none" stroke="#777" stroke-width="1"/>
<path d="M283,567.4 H416.3" stroke="#555" stroke-width="1"/>
<text transform="translate(392.10,478.60) scale(1.1,1)" font-size="11.5" text-anchor="middle" fill="#222"><tspan font-size="11">×</tspan><tspan dx="2.2">1.8</tspan></text>
<text transform="translate(348.20,648.10) scale(1.1,1)" font-size="11.5" text-anchor="middle" fill="#222"><tspan font-size="11">×</tspan><tspan dx="2.2">1.5</tspan></text>
<path d="M300.05,551.50 L310.35,551.50 L305.20,561.40 Z" fill="#fff" stroke="#000" stroke-width="1.9" stroke-linejoin="miter"/>
<text transform="translate(226.70,560.00) rotate(-90) scale(1.1,1)" font-size="13" text-anchor="middle" fill="#222">kg CO<tspan font-size="8.5" dy="2.5">2</tspan><tspan dy="-2.5"> equivalent</tspan></text>
<text transform="translate(351.30,669.80) scale(1.1,1)" font-size="13" text-anchor="middle" fill="#222">Climate change,</text>
<text transform="translate(347.60,684.50) scale(1.125,1)" font-size="13" text-anchor="middle" fill="#222">including biogenic carbon</text>
<path d="M495.8,484.2 H501.8" stroke="#777" stroke-width="1"/>
<text transform="translate(490.50,489.10)" font-size="12" text-anchor="end" fill="#333">1,800</text>
<path d="M495.8,540.4 H501.8" stroke="#777" stroke-width="1"/>
<text transform="translate(490.50,545.30)" font-size="12" text-anchor="end" fill="#333">1,200</text>
<path d="M495.8,596.6 H501.8" stroke="#777" stroke-width="1"/>
<text transform="translate(490.50,601.50) scale(1.1,1)" font-size="12" text-anchor="end" fill="#333">600</text>
<path d="M495.8,653.2 H501.8" stroke="#777" stroke-width="1"/>
<text transform="translate(490.50,658.10) scale(1.1,1)" font-size="12" text-anchor="end" fill="#333">0</text>
<rect x="508" y="648.1" width="31.20" height="5.10" fill="#d32f31"/>
<rect x="552.2" y="631.5" width="31.20" height="21.70" fill="#0b72b5"/>
<rect x="596.3" y="482.7" width="31.50" height="170.50" fill="#f27a21"/>
<rect x="501.8" y="466.2" width="133.30" height="187.00" fill="none" stroke="#777" stroke-width="1"/>
<text transform="translate(611.20,478.60) scale(1.1,1)" font-size="11.5" text-anchor="middle" fill="#222"><tspan font-size="11">×</tspan><tspan dx="2.2">33.3</tspan></text>
<text transform="translate(566.80,627.00) scale(1.1,1)" font-size="11.5" text-anchor="middle" fill="#222"><tspan font-size="11">×</tspan><tspan dx="2.2">4.2</tspan></text>
<path d="M518.35,632.70 L528.65,632.70 L523.50,642.60 Z" fill="#fff" stroke="#000" stroke-width="1.9" stroke-linejoin="miter"/>
<text transform="translate(451.00,559.50) rotate(-90) scale(1.13,1)" font-size="13" text-anchor="middle" fill="#222">kg oil equivalent</text>
<text transform="translate(569.30,669.80) scale(1.125,1)" font-size="13" text-anchor="middle" fill="#222">Fossil depletion</text>
<path d="M713.3,485.3 H719.3" stroke="#777" stroke-width="1"/>
<text transform="translate(708.00,490.20) scale(1.1,1)" font-size="12" text-anchor="end" fill="#333">720</text>
<path d="M713.3,527.5 H719.3" stroke="#777" stroke-width="1"/>
<text transform="translate(708.00,532.40) scale(1.1,1)" font-size="12" text-anchor="end" fill="#333">540</text>
<path d="M713.3,569.6 H719.3" stroke="#777" stroke-width="1"/>
<text transform="translate(708.00,574.50) scale(1.1,1)" font-size="12" text-anchor="end" fill="#333">360</text>
<path d="M713.3,611.5 H719.3" stroke="#777" stroke-width="1"/>
<text transform="translate(708.00,616.40)" font-size="12" text-anchor="end" fill="#333">180</text>
<path d="M713.3,653.7 H719.3" stroke="#777" stroke-width="1"/>
<text transform="translate(708.00,658.60) scale(1.1,1)" font-size="12" text-anchor="end" fill="#333">0</text>
<rect x="725.8" y="647.5" width="31.20" height="6.20" fill="#d32f31"/>
<rect x="769.9" y="614.4" width="31.50" height="39.30" fill="#0b72b5"/>
<rect x="814.4" y="484.7" width="31.50" height="169.00" fill="#f27a21"/>
<rect x="719.3" y="466.4" width="133.00" height="187.30" fill="none" stroke="#777" stroke-width="1"/>
<text transform="translate(829.00,480.20) scale(1.1,1)" font-size="11.5" text-anchor="middle" fill="#222"><tspan font-size="11">×</tspan><tspan dx="2.2">27</tspan></text>
<text transform="translate(784.50,609.90) scale(1.1,1)" font-size="11.5" text-anchor="middle" fill="#222"><tspan font-size="11">×</tspan><tspan dx="2.2">6.3</tspan></text>
<path d="M736.05,632.20 L746.35,632.20 L741.20,642.10 Z" fill="#fff" stroke="#000" stroke-width="1.9" stroke-linejoin="miter"/>
<text transform="translate(676.80,558.60) rotate(-90) scale(1.2,1)" font-size="13" text-anchor="middle" fill="#222">m<tspan font-size="8.5" dy="-5.2">3</tspan></text>
<text transform="translate(786.80,669.80) scale(1.125,1)" font-size="13" text-anchor="middle" fill="#222">Freshwater consumption</text>
<path d="M929.2,491.4 H935.2" stroke="#777" stroke-width="1"/>
<text transform="translate(923.90,496.30) scale(0.92,1)" font-size="12" text-anchor="end" fill="#333">1.8</text>
<path d="M929.2,545.7 H935.2" stroke="#777" stroke-width="1"/>
<text transform="translate(923.90,550.60) scale(0.92,1)" font-size="12" text-anchor="end" fill="#333">1.2</text>
<path d="M929.2,599.7 H935.2" stroke="#777" stroke-width="1"/>
<text transform="translate(923.90,604.60) scale(1.02,1)" font-size="12" text-anchor="end" fill="#333">0.6</text>
<path d="M929.2,653.7 H935.2" stroke="#777" stroke-width="1"/>
<text transform="translate(923.90,658.60) scale(1.1,1)" font-size="12" text-anchor="end" fill="#333">0</text>
<rect x="941.7" y="648.6" width="31.40" height="5.10" fill="#d32f31"/>
<rect x="986.1" y="630.9" width="31.50" height="22.80" fill="#0b72b5"/>
<rect x="1030.2" y="485.8" width="31.50" height="167.90" fill="#f27a21"/>
<rect x="935.2" y="466.4" width="133.00" height="187.30" fill="none" stroke="#777" stroke-width="1"/>
<text transform="translate(1045.40,480.80) scale(1.1,1)" font-size="11.5" text-anchor="middle" fill="#222"><tspan font-size="11">×</tspan><tspan dx="2.2">34.1</tspan></text>
<text transform="translate(1000.40,626.70) scale(1.1,1)" font-size="11.5" text-anchor="middle" fill="#222"><tspan font-size="11">×</tspan><tspan dx="2.2">4.6</tspan></text>
<path d="M952.25,633.00 L962.55,633.00 L957.40,642.90 Z" fill="#fff" stroke="#000" stroke-width="1.9" stroke-linejoin="miter"/>
<text transform="translate(894.70,560.00) rotate(-90) scale(1.07,1)" font-size="13" text-anchor="middle" fill="#222">kg 1,4-DB equivalent</text>
<text transform="translate(1003.20,669.80) scale(1.125,1)" font-size="13" text-anchor="middle" fill="#222">Freshwater ecotoxicity</text>
<path d="M60.5,729.9 H66.5" stroke="#777" stroke-width="1"/>
<text transform="translate(55.20,734.80) scale(1.02,1)" font-size="12" text-anchor="end" fill="#333">6.9</text>
<path d="M60.5,788.1 H66.5" stroke="#777" stroke-width="1"/>
<text transform="translate(55.20,793.00) scale(1.02,1)" font-size="12" text-anchor="end" fill="#333">4.6</text>
<path d="M60.5,846.5 H66.5" stroke="#777" stroke-width="1"/>
<text transform="translate(55.20,851.40) scale(1.02,1)" font-size="12" text-anchor="end" fill="#333">2.3</text>
<path d="M60.5,904.9 H66.5" stroke="#777" stroke-width="1"/>
<text transform="translate(55.20,909.80) scale(1.1,1)" font-size="12" text-anchor="end" fill="#333">0</text>
<rect x="73.2" y="897.1" width="31.00" height="7.80" fill="#d32f31"/>
<rect x="117.4" y="872.2" width="31.20" height="32.70" fill="#0b72b5"/>
<rect x="161.8" y="734" width="31.30" height="170.90" fill="#f27a21"/>
<rect x="66.5" y="717.5" width="133.20" height="187.40" fill="none" stroke="#777" stroke-width="1"/>
<path d="M66.5,717.5 H199.7" stroke="#333" stroke-width="1"/>
<text transform="translate(177.10,730.20) scale(1.1,1)" font-size="11.5" text-anchor="middle" fill="#222"><tspan font-size="11">×</tspan><tspan dx="2.2">22.5</tspan></text>
<text transform="translate(131.60,867.90) scale(1.1,1)" font-size="11.5" text-anchor="middle" fill="#222"><tspan font-size="11">×</tspan><tspan dx="2.2">4.3</tspan></text>
<path d="M83.25,882.10 L93.55,882.10 L88.40,892.00 Z" fill="#fff" stroke="#000" stroke-width="1.9" stroke-linejoin="miter"/>
<text transform="translate(27.20,811.20) rotate(-90) scale(1.07,1)" font-size="13" text-anchor="middle" fill="#222">kg 1,4-DB equivalent</text>
<text transform="translate(133.10,921.60) scale(1.125,1)" font-size="13" text-anchor="middle" fill="#222">Human toxicity, cancer</text>
<path d="M276.7,734.7 H282.7" stroke="#777" stroke-width="1"/>
<text transform="translate(271.40,739.60) scale(1.1,1)" font-size="12" text-anchor="end" fill="#333">390</text>
<path d="M276.7,791.4 H282.7" stroke="#777" stroke-width="1"/>
<text transform="translate(271.40,796.30) scale(1.1,1)" font-size="12" text-anchor="end" fill="#333">260</text>
<path d="M276.7,848.3 H282.7" stroke="#777" stroke-width="1"/>
<text transform="translate(271.40,853.20)" font-size="12" text-anchor="end" fill="#333">130</text>
<path d="M276.7,904.9 H282.7" stroke="#777" stroke-width="1"/>
<text transform="translate(271.40,909.80) scale(1.1,1)" font-size="12" text-anchor="end" fill="#333">0</text>
<rect x="289.3" y="890" width="31.20" height="14.90" fill="#d32f31"/>
<rect x="333.7" y="856.2" width="31.30" height="48.70" fill="#0b72b5"/>
<rect x="377.9" y="735" width="31.50" height="169.90" fill="#f27a21"/>
<rect x="282.7" y="717.5" width="133.10" height="187.40" fill="none" stroke="#777" stroke-width="1"/>
<path d="M282.7,717.5 H415.8" stroke="#333" stroke-width="1"/>
<text transform="translate(392.90,731.00) scale(1.1,1)" font-size="11.5" text-anchor="middle" fill="#222"><tspan font-size="11">×</tspan><tspan dx="2.2">11.4</tspan></text>
<text transform="translate(348.50,852.20) scale(1.1,1)" font-size="11.5" text-anchor="middle" fill="#222"><tspan font-size="11">×</tspan><tspan dx="2.2">3.3</tspan></text>
<path d="M299.85,875.20 L310.15,875.20 L305.00,885.10 Z" fill="#fff" stroke="#000" stroke-width="1.9" stroke-linejoin="miter"/>
<text transform="translate(240.50,811.20) rotate(-90) scale(1.07,1)" font-size="13" text-anchor="middle" fill="#222">kg 1,4-DB equivalent</text>
<text transform="translate(352.30,921.60) scale(1.125,1)" font-size="13" text-anchor="middle" fill="#222">Human toxicity, non-cancer</text>
<path d="M495.4,733.4 H501.4" stroke="#777" stroke-width="1"/>
<text transform="translate(490.10,738.30) scale(1.02,1)" font-size="12" text-anchor="end" fill="#333">4.2</text>
<path d="M495.4,790.4 H501.4" stroke="#777" stroke-width="1"/>
<text transform="translate(490.10,795.30) scale(1.02,1)" font-size="12" text-anchor="end" fill="#333">2.8</text>
<path d="M495.4,847.5 H501.4" stroke="#777" stroke-width="1"/>
<text transform="translate(490.10,852.40) scale(0.92,1)" font-size="12" text-anchor="end" fill="#333">1.4</text>
<path d="M495.4,904.9 H501.4" stroke="#777" stroke-width="1"/>
<text transform="translate(490.10,909.80) scale(1.1,1)" font-size="12" text-anchor="end" fill="#333">0</text>
<rect x="508" y="893" width="31.20" height="11.90" fill="#d32f31"/>
<rect x="552.2" y="871.1" width="31.30" height="33.80" fill="#0b72b5"/>
<rect x="596.4" y="736.5" width="31.50" height="168.40" fill="#f27a21"/>
<rect x="501.4" y="717.5" width="133.10" height="187.40" fill="none" stroke="#777" stroke-width="1"/>
<path d="M501.4,717.5 H634.5" stroke="#333" stroke-width="1"/>
<text transform="translate(611.40,732.30) scale(1.1,1)" font-size="11.5" text-anchor="middle" fill="#222"><tspan font-size="11">×</tspan><tspan dx="2.2">14.3</tspan></text>
<text transform="translate(566.70,866.90) scale(1.1,1)" font-size="11.5" text-anchor="middle" fill="#222"><tspan font-size="11">×</tspan><tspan dx="2.2">2.9</tspan></text>
<path d="M518.35,878.00 L528.65,878.00 L523.50,887.90 Z" fill="#fff" stroke="#000" stroke-width="1.9" stroke-linejoin="miter"/>
<text transform="translate(465.30,811.20) rotate(-90) scale(1.07,1)" font-size="13" text-anchor="middle" fill="#222">kg 1,4-DB equivalent</text>
<text transform="translate(568.00,921.60) scale(1.125,1)" font-size="13" text-anchor="middle" fill="#222">Marine ecotoxicity</text>
<path d="M713.3,733.2 H719.3" stroke="#777" stroke-width="1"/>
<text transform="translate(708.00,738.10)" font-size="12" text-anchor="end" fill="#333">10</text>
<path d="M713.3,767.2 H719.3" stroke="#777" stroke-width="1"/>
<text transform="translate(708.00,772.10) scale(1.1,1)" font-size="12" text-anchor="end" fill="#333">8</text>
<path d="M713.3,801.5 H719.3" stroke="#777" stroke-width="1"/>
<text transform="translate(708.00,806.40) scale(1.1,1)" font-size="12" text-anchor="end" fill="#333">6</text>
<path d="M713.3,836.1 H719.3" stroke="#777" stroke-width="1"/>
<text transform="translate(708.00,841.00) scale(1.1,1)" font-size="12" text-anchor="end" fill="#333">4</text>
<path d="M713.3,870.6 H719.3" stroke="#777" stroke-width="1"/>
<text transform="translate(708.00,875.50) scale(1.1,1)" font-size="12" text-anchor="end" fill="#333">2</text>
<path d="M713.3,904.9 H719.3" stroke="#777" stroke-width="1"/>
<text transform="translate(708.00,909.80) scale(1.1,1)" font-size="12" text-anchor="end" fill="#333">0</text>
<rect x="725.6" y="892.2" width="31.30" height="12.70" fill="#d32f31"/>
<rect x="770.1" y="872.7" width="31.20" height="32.20" fill="#0b72b5"/>
<rect x="814.3" y="734.2" width="31.50" height="170.70" fill="#f27a21"/>
<rect x="719.3" y="717.5" width="133.10" height="187.40" fill="none" stroke="#777" stroke-width="1"/>
<text transform="translate(829.30,730.50) scale(1.1,1)" font-size="11.5" text-anchor="middle" fill="#222"><tspan font-size="11">×</tspan><tspan dx="2.2">13.9</tspan></text>
<text transform="translate(784.80,868.20) scale(1.1,1)" font-size="11.5" text-anchor="middle" fill="#222"><tspan font-size="11">×</tspan><tspan dx="2.2">2.6</tspan></text>
<path d="M736.45,876.00 L746.75,876.00 L741.60,885.90 Z" fill="#fff" stroke="#000" stroke-width="1.9" stroke-linejoin="miter"/>
<text transform="translate(689.20,811.20) rotate(-90) scale(1.1,1)" font-size="13" text-anchor="middle" fill="#222">kg SO<tspan font-size="8.5" dy="2.5">2</tspan><tspan dy="-2.5"> equivalent</tspan></text>
<text transform="translate(787.40,921.60) scale(1.125,1)" font-size="13" text-anchor="middle" fill="#222">Terrestrial acidification</text>
<path d="M929.1,729.9 H935.1" stroke="#777" stroke-width="1"/>
<text transform="translate(923.80,734.80) scale(1.1,1)" font-size="12" text-anchor="end" fill="#333">7,200</text>
<path d="M929.1,788.1 H935.1" stroke="#777" stroke-width="1"/>
<text transform="translate(923.80,793.00) scale(1.1,1)" font-size="12" text-anchor="end" fill="#333">4,800</text>
<path d="M929.1,846.5 H935.1" stroke="#777" stroke-width="1"/>
<text transform="translate(923.80,851.40) scale(1.1,1)" font-size="12" text-anchor="end" fill="#333">2,400</text>
<path d="M929.1,905 H935.1" stroke="#777" stroke-width="1"/>
<text transform="translate(923.80,909.90) scale(1.1,1)" font-size="12" text-anchor="end" fill="#333">0</text>
<rect x="941.7" y="878" width="31.30" height="27.00" fill="#d32f31"/>
<rect x="986" y="852.6" width="31.50" height="52.40" fill="#0b72b5"/>
<rect x="1030.4" y="733.2" width="31.30" height="171.80" fill="#f27a21"/>
<rect x="935.1" y="717.5" width="133.20" height="187.50" fill="none" stroke="#777" stroke-width="1"/>
<path d="M935.1,717.5 H1068.3" stroke="#333" stroke-width="1"/>
<text transform="translate(1045.20,729.70) scale(1.1,1)" font-size="11.5" text-anchor="middle" fill="#222"><tspan font-size="11">×</tspan><tspan dx="2.2">6.5</tspan></text>
<text transform="translate(999.90,848.60) scale(1.1,1)" font-size="11.5" text-anchor="middle" fill="#222"><tspan font-size="11">×</tspan><tspan dx="2.2">2</tspan></text>
<path d="M952.05,863.70 L962.35,863.70 L957.20,873.60 Z" fill="#fff" stroke="#000" stroke-width="1.9" stroke-linejoin="miter"/>
<text transform="translate(880.50,811.20) rotate(-90) scale(1.07,1)" font-size="13" text-anchor="middle" fill="#222">kg 1,4-DB equivalent</text>
<text transform="translate(1001.70,921.60) scale(1.125,1)" font-size="13" text-anchor="middle" fill="#222">Terrestrial ecotoxicity</text>
</svg>
</body></html>
